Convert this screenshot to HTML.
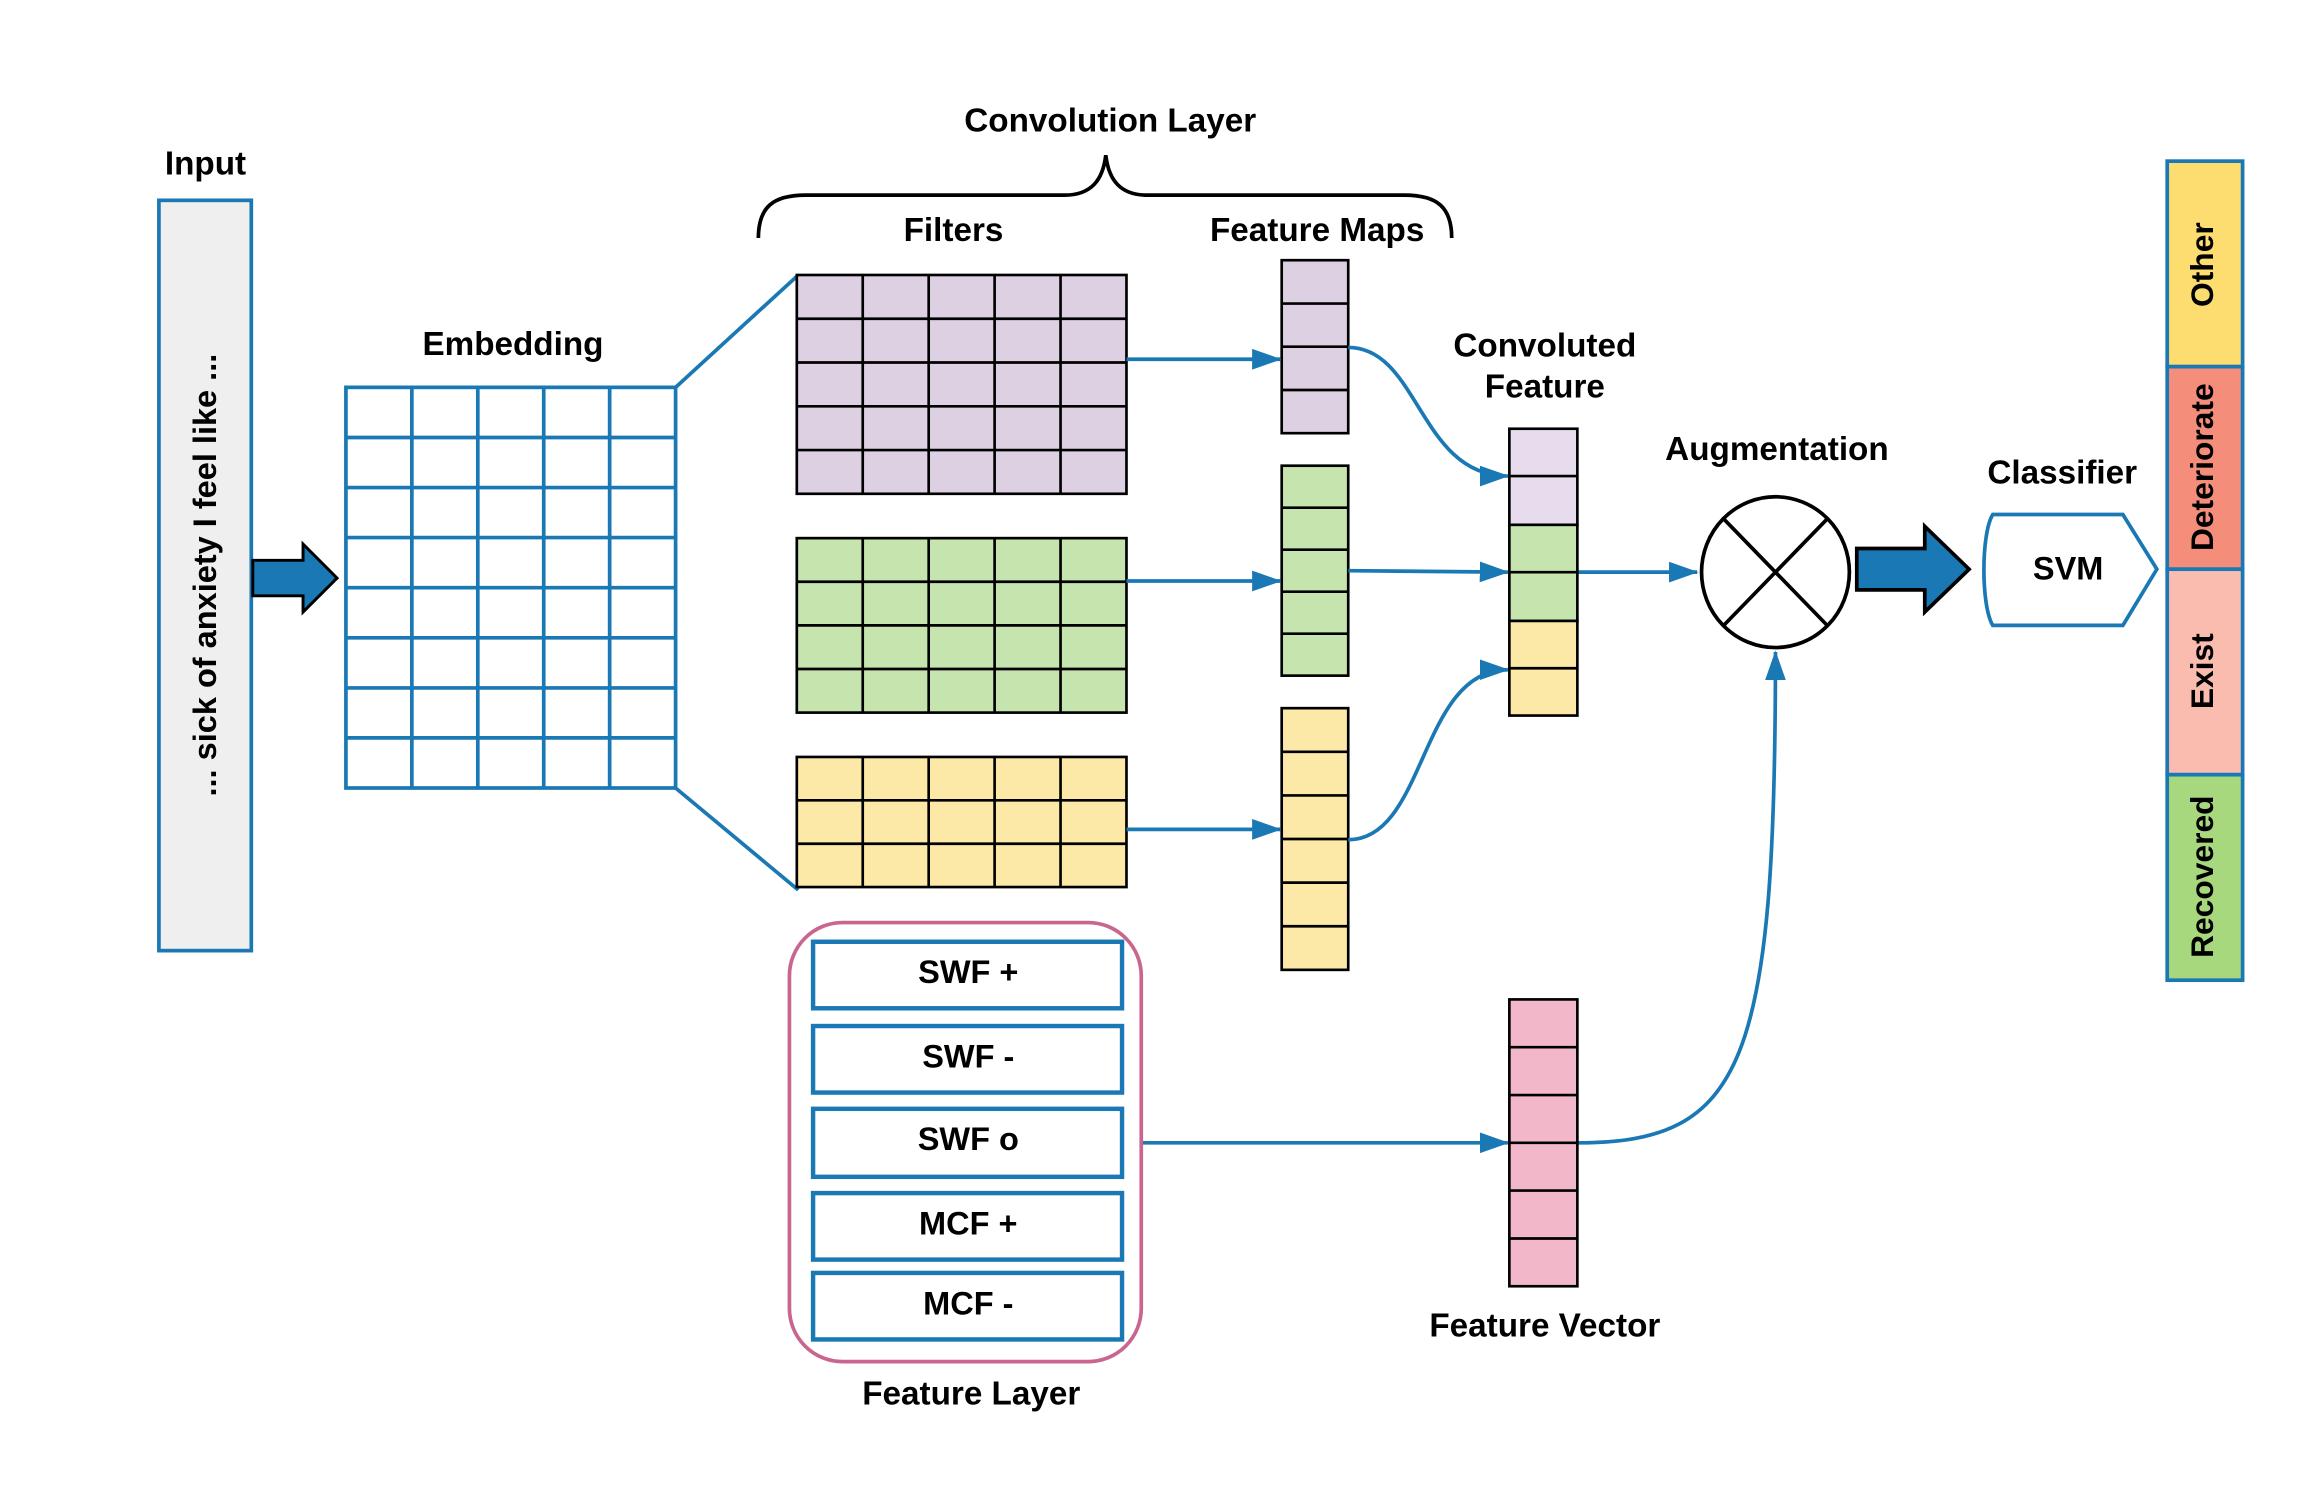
<!DOCTYPE html>
<html><head><meta charset="utf-8"><style>
html,body{margin:0;padding:0;background:#fff;}
svg{display:block;}
text{font-family:"Liberation Sans",sans-serif;font-weight:bold;fill:#000;}
</style></head><body>
<svg width="2318" height="1508" viewBox="0 0 1568 1020" preserveAspectRatio="none" xmlns="http://www.w3.org/2000/svg">
<defs>
<marker id="ah" markerWidth="20" markerHeight="16" refX="19" refY="8" orient="auto" markerUnits="userSpaceOnUse" viewBox="0 0 20 16">
<path d="M0,1 L20,8 L0,15 z" fill="#1a78b4"/>
</marker>
</defs>
<rect width="1568" height="1020" fill="#fff"/>

<text x="139" y="118" font-size="22.5" text-anchor="middle">Input</text>
<rect x="107.5" y="135.5" width="62.5" height="507.5" fill="#efefef" stroke="#1a78b4" stroke-width="2.5"/>
<text transform="translate(146,389) rotate(-90)" font-size="22" text-anchor="middle">... sick of anxiety I feel like ...</text>

<path d="M171,379 L205,379 L205,368 L228,391 L205,414 L205,403 L171,403 z" fill="#1a78b4" stroke="#000" stroke-width="2"/>

<text x="347" y="240" font-size="22.5" text-anchor="middle">Embedding</text>
<g stroke="#1a78b4" stroke-width="2.5" fill="none">
<rect x="234" y="262" width="223" height="271"/>
<path d="M278.6,262V533M323.2,262V533M367.8,262V533M412.4,262V533"/>
<path d="M234,295.9H457M234,329.8H457M234,363.6H457M234,397.5H457M234,431.4H457M234,465.3H457M234,499.1H457"/>
<path d="M457,262L540,186M457,533L540,602"/>
</g>

<path d="M513,161 C513,140 523,132 545,132 L720,132 C738,132 746,122 748,105 C750,122 758,132 776,132 L950,132 C972,132 982,140 982,161" fill="none" stroke="#000" stroke-width="2.5"/>
<text x="751" y="89" font-size="22.5" text-anchor="middle">Convolution Layer</text>
<text x="645" y="163" font-size="22.5" text-anchor="middle">Filters</text>
<text x="891" y="163" font-size="22.5" text-anchor="middle">Feature Maps</text>

<g stroke="#000" stroke-width="1.8">
<rect x="539" y="186" width="223" height="148" fill="#dcd0e2"/>
<path d="M583.6,186V334M628.2,186V334M672.8,186V334M717.4,186V334M539,215.6H762M539,245.2H762M539,274.8H762M539,304.4H762"/>
<rect x="539" y="364" width="223" height="118" fill="#c6e5ae"/>
<path d="M583.6,364V482M628.2,364V482M672.8,364V482M717.4,364V482M539,393.5H762M539,423H762M539,452.5H762"/>
<rect x="539" y="512" width="223" height="88" fill="#fde9a7"/>
<path d="M583.6,512V600M628.2,512V600M672.8,512V600M717.4,512V600M539,541.3H762M539,570.7H762"/>
</g>

<g stroke="#000" stroke-width="1.8">
<rect x="867" y="176" width="45" height="117" fill="#dcd0e2"/>
<path d="M867,205.3H912M867,234.5H912M867,263.8H912"/>
<rect x="867" y="315" width="45" height="142" fill="#c6e5ae"/>
<path d="M867,343.4H912M867,371.8H912M867,400.2H912M867,428.6H912"/>
<rect x="867" y="479" width="45" height="177" fill="#fde9a7"/>
<path d="M867,508.5H912M867,538H912M867,567.5H912M867,597H912M867,626.5H912"/>
</g>

<g stroke="#1a78b4" stroke-width="2.5" fill="none" marker-end="url(#ah)">
<path d="M762,243 L866,243"/>
<path d="M762,393 L866,393"/>
<path d="M762,561 L866,561"/>
<path d="M912,235 C960,235 960,322 1020,322"/>
<path d="M912,386 L1020,387"/>
<path d="M912,568 C965,568 960,453 1020,453"/>
<path d="M1067,387 L1148,387"/>
<path d="M772,773 L1020,773"/>
<path d="M1067,773 C1180,773 1201,720 1201,441"/>
</g>

<text x="1045" y="241" font-size="22.5" text-anchor="middle">Convoluted</text>
<text x="1045" y="269" font-size="22.5" text-anchor="middle">Feature</text>
<g stroke="#000" stroke-width="1.8">
<rect x="1021" y="290" width="46" height="65" fill="#e6dced"/>
<rect x="1021" y="355" width="46" height="65" fill="#c6e5ae"/>
<rect x="1021" y="420" width="46" height="64" fill="#fde9a7"/>
<path d="M1021,322H1067M1021,387H1067M1021,452H1067"/>
</g>

<text x="1202" y="311" font-size="22.5" text-anchor="middle">Augmentation</text>
<ellipse cx="1201" cy="387" rx="50" ry="51" fill="#fff" stroke="#000" stroke-width="2.5"/>
<path d="M1166,351 L1236,423 M1236,351 L1166,423" stroke="#000" stroke-width="2.5"/>

<path d="M1256,371 L1302,371 L1302,356 L1332,385 L1302,414 L1302,399 L1256,399 z" fill="#1a78b4" stroke="#000" stroke-width="2.5"/>

<text x="1395" y="327" font-size="22.5" text-anchor="middle">Classifier</text>
<path d="M1348,348 L1436,348 L1459,385 L1436,423 L1348,423 C1340,410 1340,361 1348,348 z" fill="#fff" stroke="#1a78b4" stroke-width="2.5"/>
<text x="1399" y="392" font-size="22" text-anchor="middle">SVM</text>

<g stroke="#1a78b4" stroke-width="2.5">
<rect x="1466" y="109" width="51" height="139" fill="#fddc70"/>
<rect x="1466" y="248" width="51" height="137" fill="#f48e7a"/>
<rect x="1466" y="385" width="51" height="139" fill="#fbbcb0"/>
<rect x="1466" y="524" width="51" height="139" fill="#a8d87e"/>
</g>
<text transform="translate(1497,179) rotate(-90)" font-size="21.5" text-anchor="middle">Other</text>
<text transform="translate(1497,316) rotate(-90)" font-size="21.5" text-anchor="middle">Deteriorate</text>
<text transform="translate(1497,454) rotate(-90)" font-size="21.5" text-anchor="middle">Exist</text>
<text transform="translate(1497,593) rotate(-90)" font-size="21.5" text-anchor="middle">Recovered</text>

<rect x="534" y="624" width="238" height="297" rx="36" ry="36" fill="none" stroke="#c9668f" stroke-width="2.5"/>
<g stroke="#1a78b4" stroke-width="3" fill="#fff">
<rect x="550" y="637" width="209" height="45"/>
<rect x="550" y="694" width="209" height="45"/>
<rect x="550" y="750" width="209" height="46"/>
<rect x="550" y="807" width="209" height="45"/>
<rect x="550" y="861" width="209" height="45"/>
</g>
<text x="655" y="665" font-size="22" text-anchor="middle">SWF +</text>
<text x="655" y="722" font-size="22" text-anchor="middle">SWF -</text>
<text x="655" y="778" font-size="22" text-anchor="middle">SWF o</text>
<text x="655" y="835" font-size="22" text-anchor="middle">MCF +</text>
<text x="655" y="889" font-size="22" text-anchor="middle">MCF -</text>
<text x="657" y="950" font-size="22.5" text-anchor="middle">Feature Layer</text>

<g stroke="#000" stroke-width="1.8">
<rect x="1021" y="676" width="46" height="194" fill="#f2b7c9"/>
<path d="M1021,708.3H1067M1021,740.7H1067M1021,773H1067M1021,805.3H1067M1021,837.7H1067"/>
</g>
<text x="1045" y="904" font-size="22.5" text-anchor="middle">Feature Vector</text>
</svg>
</body></html>
